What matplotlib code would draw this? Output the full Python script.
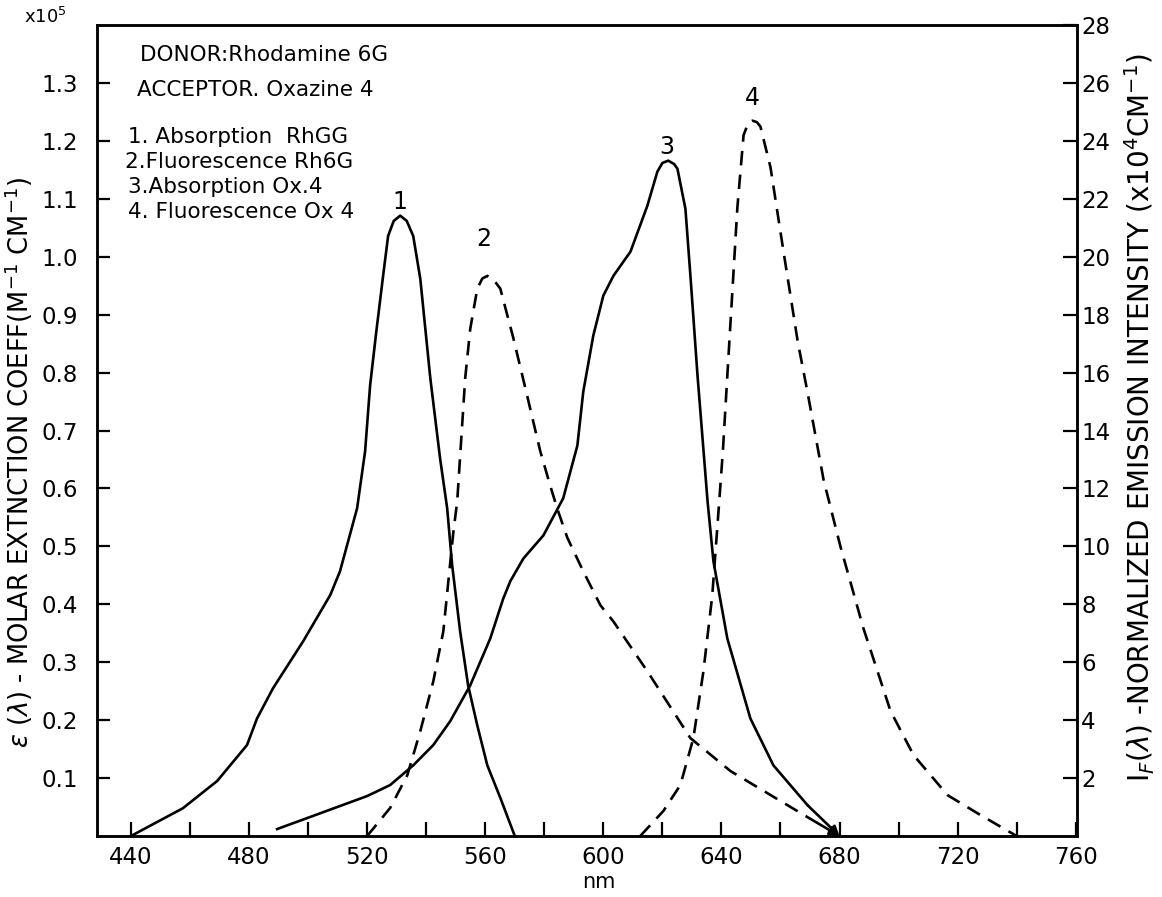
import matplotlib
matplotlib.use("Agg")
import matplotlib.pyplot as plt
from matplotlib.ticker import FixedLocator

plt.rcParams['font.family'] = ['DejaVu Sans']

# ---- data ----
# 1. Absorption Rh6G (left axis, x1e5 M^-1 cm^-1)
abs_rh_x = [440, 457.6, 469.2, 479.3, 482.7, 488.1, 498.3, 507.5, 510.8, 516.6, 519.3, 521.0,
            523.1, 525.4, 527.1, 529.0, 531.2, 533.4, 535.6, 538.0, 541.4, 544.7, 547.1, 548.8,
            551.5, 554.2, 557.3, 560.7, 565.1, 570.0]
abs_rh_y = [0.0, 0.048, 0.095, 0.157, 0.203, 0.255, 0.336, 0.416, 0.457, 0.566, 0.664, 0.778,
            0.871, 0.967, 1.036, 1.062, 1.071, 1.062, 1.036, 0.962, 0.790, 0.652, 0.566, 0.467,
            0.353, 0.260, 0.191, 0.122, 0.066, 0.0]

# 2. Fluorescence Rh6G (right axis)
fl_rh_x = [520, 527.8, 533.6, 538.0, 542.4, 545.8, 547.5, 549.2, 550.5, 553.2, 554.9, 557.3,
           559.0, 560.7, 562.5, 565.1, 569.5, 574.2, 578.6, 582.0, 584.4, 587.8, 593.2, 599.0,
           603.4, 614.9, 629.5, 643.1, 660.0, 670.0, 680.0]
fl_rh_y = [0.0, 0.97, 2.10, 3.62, 5.34, 7.07, 8.79, 10.5, 11.55, 15.8, 17.5, 18.9,
           19.25, 19.34, 19.25, 18.9, 17.2, 15.2, 13.3, 12.1, 11.3, 10.3, 9.14, 7.97,
           7.41, 5.69, 3.38, 2.24, 1.21, 0.6, 0.0]

# 3. Absorption Ox.4 (left axis)
abs_ox_x = [489.5, 499.7, 520.0, 527.8, 535.6, 542.4, 548.1, 554.9, 561.7, 566.1, 568.5, 572.9,
            579.7, 586.4, 591.2, 593.2, 596.6, 600.0, 603.4, 609.2, 614.9, 618.3, 620.0, 622.0,
            624.0, 625.1, 627.8, 629.5, 631.9, 635.3, 637.3, 642.0, 649.8, 657.6, 669.2, 680.0]
abs_ox_y = [0.012, 0.031, 0.069, 0.088, 0.122, 0.157, 0.198, 0.260, 0.341, 0.410, 0.440, 0.479,
            0.519, 0.583, 0.674, 0.767, 0.864, 0.933, 0.967, 1.009, 1.088, 1.147, 1.162, 1.166,
            1.160, 1.152, 1.083, 0.967, 0.795, 0.578, 0.474, 0.341, 0.203, 0.122, 0.053, 0.0]

# 4. Fluorescence Ox.4 (right axis)
fl_ox_x = [612.5, 620.3, 626.1, 630.5, 633.9, 636.9, 639.0, 640.5, 642.0, 643.7, 645.4, 647.5,
           649.0, 650.5, 652.0, 653.2, 656.6, 661.0, 665.8, 669.2, 674.6, 680.3, 688.1, 697.3,
           705.1, 716.6, 727.8, 740.0]
fl_ox_y = [0.0, 0.86, 1.76, 3.38, 5.69, 8.31, 11.2, 13.3, 15.9, 18.8, 21.7, 24.2,
           24.6, 24.7, 24.65, 24.5, 23.1, 20.2, 17.1, 15.3, 12.3, 10.0, 7.17, 4.31,
           2.79, 1.41, 0.72, 0.0]

x_ticks = [440, 480, 520, 560, 600, 640, 680, 720, 760]
x_minor = [460, 500, 540, 580, 620, 660, 700, 740]
left_ticks = [0.1, 0.2, 0.3, 0.4, 0.5, 0.6, 0.7, 0.8, 0.9, 1.0, 1.1, 1.2, 1.3]
left_labels = ['0.1', '0.2', '0.3', '0.4', '0.5', '0.6', '0.7', '0.8', '0.9', '1.0', '1.1', '1.2', '1.3']
right_ticks = [2, 4, 6, 8, 10, 12, 14, 16, 18, 20, 22, 24, 26, 28]

# ---- figure ----
fig = plt.figure(figsize=(11.62, 8.97), dpi=100)
ax = fig.add_axes([0.0835, 0.068, 0.8435, 0.904])
ax2 = ax.twinx()

lw = 1.9
dash = (5.5, 3.5)
ax.plot(abs_rh_x, abs_rh_y, color='black', lw=lw, solid_joinstyle='round')
ax.plot(abs_ox_x[:-1], abs_ox_y[:-1], color='black', lw=lw, solid_joinstyle='round')
ax2.plot(fl_rh_x[:-1], fl_rh_y[:-1], color='black', lw=lw, dashes=dash)
ax2.plot(fl_ox_x, fl_ox_y, color='black', lw=lw, dashes=dash)

# arrow heads at 680 nm
ax.annotate('', xy=(abs_ox_x[-1], abs_ox_y[-1]), xytext=(abs_ox_x[-2], abs_ox_y[-2]),
            arrowprops=dict(arrowstyle='-|>', color='black', lw=lw, mutation_scale=14,
                            shrinkA=0, shrinkB=0))
ax2.annotate('', xy=(fl_rh_x[-1], fl_rh_y[-1]), xytext=(fl_rh_x[-2], fl_rh_y[-2]),
             arrowprops=dict(arrowstyle='-|>', color='black', lw=lw, mutation_scale=14,
                             shrinkA=0, shrinkB=0))

ax.set_xlim(428.5, 760.5)
ax.set_ylim(0, 1.4)
ax2.set_ylim(0, 28)

fs = 16.5
ax.xaxis.set_major_locator(FixedLocator(x_ticks))
ax.xaxis.set_minor_locator(FixedLocator(x_minor))
ax.set_xticklabels([str(t) for t in x_ticks], fontsize=fs)
ax.tick_params(axis='x', which='both', direction='in', length=10, width=1.6, pad=7)

ax.set_yticks(left_ticks)
ax.set_yticklabels(left_labels, fontsize=fs)
ax.tick_params(axis='y', which='both', direction='in', length=9, width=1.6, pad=14)

ax2.set_yticks(right_ticks)
ax2.set_yticklabels([str(t) for t in right_ticks], fontsize=fs)
ax2.tick_params(axis='y', which='both', direction='in', length=10, width=1.6, pad=3)

for a in (ax, ax2):
    for s in a.spines.values():
        s.set_linewidth(1.8)

# axis titles
fig.text(599 / 1162, 1 - 882 / 897, 'nm', fontsize=15, ha='center', va='center')
fig.text(19 / 1162, 1 - 462 / 897,
         r'$\epsilon$ ($\lambda$) - MOLAR EXTNCTION COEFF(M$^{-1}$ CM$^{-1}$)',
         fontsize=18.5, rotation=90, ha='center', va='center')
fig.text(1140 / 1162, 1 - 418 / 897,
         r'I$_F$($\lambda$) -NORMALIZED EMISSION INTENSITY (x10$^4$CM$^{-1}$)',
         fontsize=20, rotation=90, ha='center', va='center')
fig.text(45 / 1162, 1 - 17 / 897, r'x10$^5$', fontsize=13, ha='center', va='center')

# peak labels
ax.text(531, 1.095, '1', fontsize=17, ha='center', va='center')
ax2.text(559.5, 20.6, '2', fontsize=17, ha='center', va='center')
ax.text(621.5, 1.19, '3', fontsize=17, ha='center', va='center')
ax2.text(650.5, 25.5, '4', fontsize=17, ha='center', va='center')

# annotation block
tk = dict(transform=ax.transAxes, fontsize=15.5, ha='left', va='center')
ax.text(0.044, 0.963, 'DONOR:Rhodamine 6G', **tk)
ax.text(0.041, 0.920, 'ACCEPTOR. Oxazine 4', **tk)
ax.text(0.032, 0.862, '1. Absorption  RhGG', **tk)
ax.text(0.029, 0.831, '2.Fluorescence Rh6G', **tk)
ax.text(0.032, 0.800, '3.Absorption Ox.4', **tk)
ax.text(0.032, 0.769, '4. Fluorescence Ox 4', **tk)

fig.savefig('out.png', dpi=100)
